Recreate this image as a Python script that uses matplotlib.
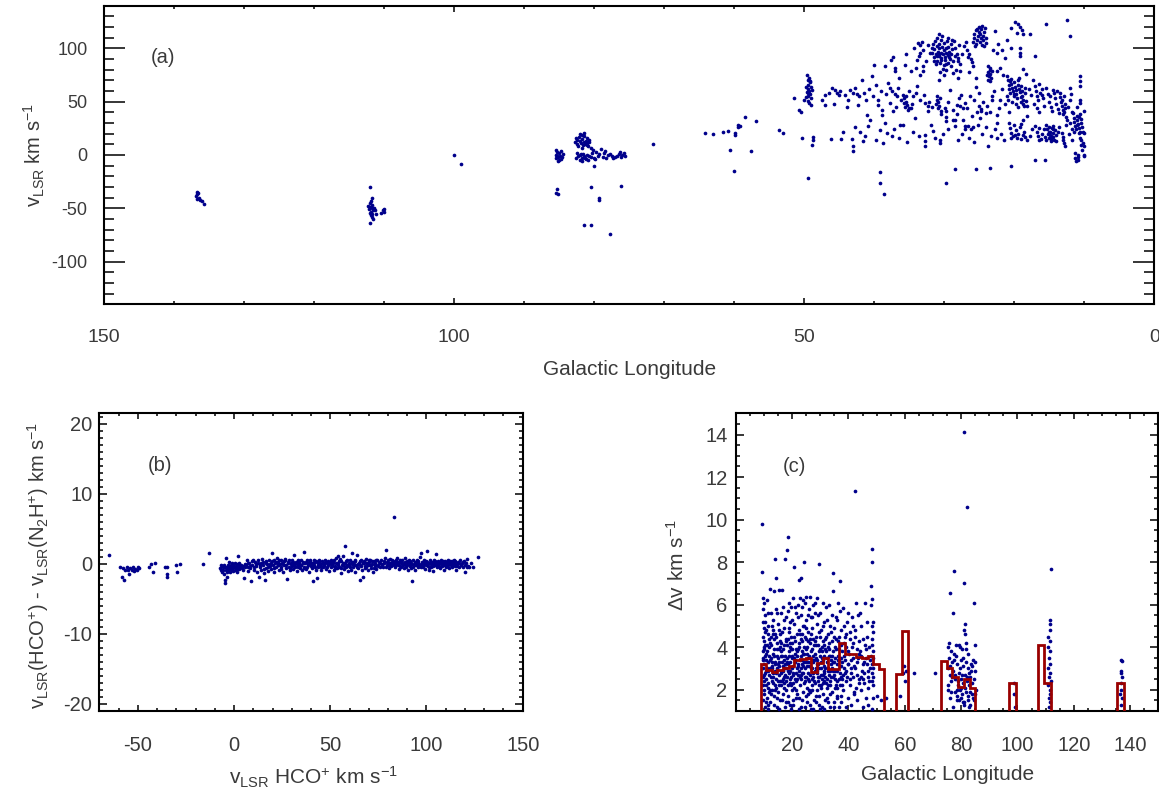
"""Galactic longitude / velocity scatter panels with a binned line-width outline."""

import matplotlib

matplotlib.use("Agg")
import matplotlib.pyplot as plt
import numpy as np
from matplotlib.ticker import MultipleLocator

plt.rcParams["font.family"] = ["Liberation Sans", "DejaVu Sans"]
plt.rcParams["mathtext.fontset"] = "custom"
plt.rcParams["mathtext.rm"] = "Liberation Sans"
plt.rcParams["mathtext.it"] = "Liberation Sans:italic"
plt.rcParams["axes.unicode_minus"] = False

DOT = "#00008b"
HIST = "#990000"
TEXT = "#3a3a3a"

# ---- panel (a): (galactic longitude, v_LSR) ----
a_outer = [
    (136.8, -35), (136.6, -36), (136.9, -38), (136.5, -40), (136.8, -41), (136.3, -42),
    (136.0, -43), (135.8, -46), (136.7, -37),
    (112.0, -30), (111.8, -40), (111.9, -43), (112.1, -45), (111.7, -47), (112.0, -49),
    (111.8, -50), (112.2, -51), (111.6, -52), (111.9, -53), (112.1, -54), (111.7, -55),
    (111.9, -56), (111.8, -58), (111.6, -60), (112.0, -64), (110.2, -52), (110.0, -53),
    (110.4, -54), (110.1, -51), (111.3, -52), (111.2, -55), (111.5, -50), (112.3, -48),
    (100.0, -0.4), (99.0, -8.2),
]
a_cygnus = [
    (85.4, 5), (85.3, 3), (85.5, 0), (85.2, -2), (85.4, -3), (85.1, -5), (84.9, -1),
    (85.0, 2), (84.6, -2), (84.5, 1), (84.7, -4), (85.2, -6), (84.8, 4), (85.3, -1),
    (85.3, -32), (85.4, -36), (85.2, -37),
    (82.5, 14), (82.2, 17), (82.0, 20), (81.8, 15), (81.5, 18), (81.2, 13), (81.0, 16),
    (80.8, 12), (82.7, 12), (82.4, 10), (81.9, 11), (81.6, 9), (81.3, 10), (80.9, 8),
    (82.1, 13), (81.7, 19), (81.4, 21), (82.6, 16), (80.7, 14), (81.1, 11), (81.8, 7),
    (82.3, 8), (81.5, 12), (81.0, 9),
    (82.5, 2), (82.3, -1), (82.0, 0), (81.8, -3), (81.6, 1), (81.4, -2), (81.2, -4),
    (81.0, 0), (80.8, -1), (80.5, -2), (82.1, -5), (81.7, -6), (81.5, -1), (81.9, 1),
    (81.3, -3), (80.9, -5), (82.6, -3), (80.1, -10), (80.3, 2), (80.0, -3),
    (80.5, 7), (80.2, 5), (79.8, 3), (79.5, -1), (79.3, 1), (79.0, 6), (78.8, -2),
    (78.6, 2), (78.3, -3), (78.0, 0), (77.8, 1), (77.5, -1), (77.3, -3), (77.0, -2),
    (79.9, -4), (78.4, 4),
    (76.8, -1), (76.5, 1), (76.2, -2), (76.0, 0), (75.8, 2), (75.6, -1), (76.3, 3),
    (80.5, -30), (79.3, -40), (79.3, -42), (81.5, -66), (80.4, -65.5), (77.7, -74),
    (76.2, -29), (71.6, 10.3),
    (64.2, 20.6), (63.1, 19.7), (61.6, 21.6), (60.9, 22.5), (59.9, 21), (59.9, 19),
    (59.5, 28), (59.5, 26), (59.2, 27), (58.5, 36), (56.9, 31.5), (60.6, 4.9),
    (57.6, 3.9), (60.0, -14.6), (53.6, 23), (53.1, 20.6),
]
a_inner = [
    (49.6, 75), (49.3, 72), (49.5, 70), (49.2, 68), (49.4, 66), (49.1, 64), (49.5, 62),
    (49.3, 60), (49.6, 59), (49.2, 57), (49.4, 55), (49.0, 53), (49.5, 51), (49.3, 49),
    (49.1, 47), (49.7, 64), (48.9, 61), (49.4, 58), (49.2, 69),
    (51.4, 53.5), (50.7, 42.5), (50.4, 40.3), (50.3, 15.9), (48.7, 17), (48.7, 14),
    (48.9, 9.7), (49.4, -21.7), (49.8, 54), (50.0, 52),
    (47.0, 56), (47.0, 47.2), (46.0, 62.9), (45.6, 61), (45.3, 58), (45.1, 56.6),
    (46.2, 15), (44.7, 15), (43.9, 45), (43.2, 15), (43.0, 3.4), (43.1, 8), (43.5, 61),
    (43.0, 58), (42.5, 57), (42.2, 55), (42.0, 21.2), (41.7, 70), (41.6, 13.4),
    (41.2, 51.9), (41.1, 37.8), (40.9, 26.9), (40.6, 33.1), (40.3, 73.8), (40.1, 84.1),
    (39.7, 66), (39.4, 52), (39.2, 23.7), (38.9, 42.5), (38.9, 37.2), (39.2, -16.3),
    (39.2, -26.3), (38.6, -36.7), (38.5, 83.2), (38.5, 30), (38.0, 67.6), (38.2, 20.6),
    (37.5, 17.5), (37.6, 89.4), (37.3, 91.7), (37.0, 81.6), (37.0, 78.5), (37.8, 63),
    (37.4, 60), (37.1, 57), (36.8, 55), (37.3, 41), (36.6, 62.9), (36.3, 28.4),
    (35.9, 28.4), (35.6, 84.8), (35.5, 94.8), (35.9, 56.6), (35.7, 53), (35.5, 50),
    (35.3, 47), (35.1, 44), (35.8, 49), (35.4, 55), (35.2, 42.5), (35.6, 45),
    (34.8, 78.5), (34.7, 44), (34.4, 55), (34.2, 34.7), (33.9, 89.4), (33.9, 64.4),
    (33.6, 92.6), (33.8, 105), (33.5, 103), (33.2, 106), (33.1, 98.8), (33.0, 83),
    (33.0, 78.5), (33.5, 75.4), (32.8, 48.8), (32.8, 19), (32.7, 13), (32.8, 8),
    (32.3, 45.6), (32.3, 41), (32.0, 95.7),
    (31.8, 100), (31.7, 96), (31.6, 104), (31.5, 92), (31.4, 99), (31.3, 107), (31.2, 95),
    (31.1, 102), (31.0, 88), (31.0, 110), (30.9, 97), (30.8, 93), (30.8, 104), (30.7, 100),
    (30.6, 86), (30.5, 96), (30.5, 108), (30.4, 91), (30.3, 101), (30.3, 112), (30.2, 95),
    (30.1, 84), (30.1, 98), (30.0, 105), (29.9, 92), (29.9, 89), (29.8, 100), (29.7, 96),
    (29.7, 80), (29.6, 107), (29.5, 94), (29.4, 86), (29.4, 101), (29.3, 97), (29.2, 90),
    (29.1, 104), (29.0, 83), (29.0, 95), (28.9, 99), (28.8, 88), (28.7, 77), (30.6, 78),
    (30.2, 81), (31.2, 85), (30.0, 75), (29.5, 110), (30.8, 113), (31.5, 88), (28.9, 108),
    (29.8, 85), (30.4, 89), (31.0, 93), (29.3, 92), (30.7, 95),
    (31.6, 22.2), (31.3, 15.9), (31.1, 55), (30.9, 50), (30.7, 46), (30.5, 41), (30.4, 38),
    (30.9, 44), (31.0, 52), (30.6, 14.3), (30.6, 11.2), (29.8, -26.3), (29.7, 41),
    (29.7, 36), (29.7, 31.5), (29.2, 61.3), (28.7, 33.1), (28.5, -12.9), (28.5, 33),
    (28.5, 27),
    (28.6, 106.7), (28.4, 100), (28.2, 95), (28.0, 91), (27.8, 85), (28.3, 80),
    (27.9, 103), (28.1, 88), (28.5, 93), (27.8, 78.5),
    (28.2, 47), (27.8, 46), (27.3, 44), (27.9, 53.5), (27.3, 33), (27.0, 27), (27.0, 24),
    (26.3, 55), (26.6, 27), (26.2, 24), (25.9, 26), (25.5, -13.2),
    (26.8, 98.8), (26.5, 95), (26.2, 90), (26.0, 87), (25.9, 83.2), (26.6, 92),
    (25.4, 72.2), (25.4, 64), (25.1, 58), (25.1, 45.6), (24.8, 43), (24.7, 41),
    (25.9, 106), (25.8, 110), (25.7, 113), (25.5, 117), (25.4, 104), (25.3, 108),
    (25.2, 112), (25.1, 120), (25.0, 115), (24.9, 106), (24.8, 110), (24.7, 118),
    (24.6, 103), (24.5, 112), (24.4, 108), (24.3, 115), (24.2, 119), (24.1, 105),
    (24.0, 110), (24.6, 121), (25.6, 102), (24.9, 113), (24.3, 102), (25.3, 118),
    (24.0, 39.4), (23.7, 8.1), (23.5, -12.3),
    (23.8, 83), (23.5, 80), (23.7, 78), (23.4, 76), (23.6, 74), (23.3, 72), (23.8, 70),
    (23.5, 69), (23.2, 79), (23.9, 75), (23.4, 82),
    (23.2, 55), (23.2, 52), (23.0, 98.8), (22.8, 116), (22.5, 95.7), (22.5, 78.5),
    (22.5, 37.8), (22.4, 30), (22.4, 15.9), (22.0, 51.9), (21.3, 91), (21.1, 55),
    (20.5, -10.7), (20.4, 119.2),
    (19.9, 125), (19.5, 123), (19.2, 120), (18.9, 117), (19.6, 114), (18.7, 113),
    (19.2, 100), (19.2, 95.7), (19.2, 92.6), (18.7, 80.7),
    (21.1, 73.8), (20.9, 70), (20.8, 66), (20.7, 62), (20.6, 58), (20.5, 71), (20.4, 67),
    (20.3, 63), (20.2, 60), (20.1, 55), (20.0, 68), (19.9, 64), (19.8, 61), (19.7, 57),
    (19.6, 53), (19.5, 70), (19.4, 66), (19.3, 62), (19.2, 59), (19.1, 50), (19.0, 65),
    (18.9, 55), (18.8, 48), (18.7, 52), (18.6, 46), (18.5, 58), (18.4, 63), (18.3, 51),
    (18.2, 45.6), (20.3, 50), (19.8, 48), (20.9, 52), (19.5, 45), (18.9, 60), (20.6, 69),
    (19.3, 72), (20.0, 57), (19.0, 54),
    (20.8, 30), (20.6, 25), (20.4, 21), (20.2, 18), (20.0, 28), (19.8, 23), (19.6, 16),
    (19.4, 20), (19.2, 26), (19.0, 15), (18.8, 19), (18.6, 22), (18.4, 17), (18.2, 14.4),
    (19.9, 19), (20.5, 16), (19.1, 29), (18.7, 33.1), (18.2, 36.3),
    (17.8, 113.6), (17.0, 92.6),
    (17.3, 70.7), (17.1, 65), (16.9, 60), (16.7, 55), (16.5, 67), (16.3, 58), (16.1, 62),
    (15.9, 53), (16.6, 51.9), (16.0, 56),
    (17.0, 27), (16.8, 22), (16.6, 18), (16.4, 25), (16.2, 15), (16.0, 20), (15.8, 24),
    (15.6, 17), (15.4, 14.4), (16.5, 14),
    (17.0, -4.4), (15.6, -4.4), (15.4, 123.3),
    (15.4, 62.9), (15.2, 57), (15.0, 50), (14.8, 45), (14.6, 41), (14.4, 61.3), (14.2, 53),
    (14.0, 48), (13.8, 43), (13.6, 39.4), (14.9, 55), (14.3, 58),
    (15.4, 28.4), (15.3, 24), (15.2, 20), (15.1, 16), (15.0, 26), (14.9, 22), (14.8, 18),
    (14.7, 13), (14.6, 25), (14.5, 21), (14.4, 17), (14.3, 14), (14.2, 23), (14.1, 19),
    (14.0, 12.8), (14.8, 15), (15.1, 22), (14.5, 27), (14.4, 24), (14.9, 19),
    (13.5, 58.2), (13.4, 54), (13.3, 50), (13.2, 46), (13.1, 42), (13.0, 38), (12.9, 55),
    (12.8, 48), (12.7, 44), (12.6, 36), (12.5, 33.1), (13.2, 52), (12.9, 40),
    (13.2, 20.6), (13.0, 14), (12.8, 8.1), (13.1, 17), (12.9, 11),
    (12.4, 127), (12.0, 111.4), (12.0, 62.9), (11.9, 57), (12.0, 52),
    (11.6, 39.4), (11.5, 35), (11.4, 31), (11.3, 27), (11.2, 24), (11.1, 37), (11.0, 33),
    (10.9, 29), (10.8, 25), (10.7, 21), (10.6, 38), (10.5, 34), (10.4, 30), (10.3, 26),
    (10.2, 22), (10.1, 20.6), (11.4, 22), (10.8, 36), (11.0, 28),
    (11.3, 1.8), (11.3, -3), (11.2, -6), (10.9, 0.3), (10.9, -2), (10.9, -4.4),
    (10.6, 73.8), (10.6, 69), (10.6, 64.4), (10.6, 52), (10.6, 48.8), (10.4, 14.3),
    (10.2, 11), (10.0, 8.1), (10.0, 41), (10.0, 0.3), (10.6, 22), (10.6, 16), (10.3, 5),
    (10.1, -1), (10.5, 9),
]
a_diffuse = [
    (47.5, 52), (46.5, 58), (45.8, 48), (44.9, 60), (44.2, 56), (43.7, 52), (42.8, 63),
    (42.3, 47), (41.5, 58), (40.8, 62), (40.2, 55), (39.5, 47), (39.0, 60), (38.3, 57),
    (37.7, 49), (36.9, 45), (36.2, 52), (35.1, 60), (34.6, 48), (34.0, 58), (33.4, 52),
    (32.9, 56), (32.2, 50), (31.8, 45), (31.2, 48), (30.6, 53), (29.9, 44), (29.4, 50),
    (28.8, 42), (28.2, 38), (27.6, 56), (27.1, 49), (26.7, 44), (26.1, 37), (25.7, 52),
    (25.3, 40), (24.9, 35), (24.4, 50), (23.9, 46), (23.4, 40), (22.9, 60), (22.2, 44),
    (21.7, 62), (21.3, 48), (20.8, 40), (17.9, 62), (17.6, 56), (17.2, 48), (16.8, 44),
    (16.4, 40), (15.8, 46), (13.9, 60), (12.3, 45), (11.8, 40), (11.1, 45),
    (44.5, 22), (42.7, 26), (41.3, 18), (39.8, 14), (38.8, 11), (37.2, 24), (36.4, 16),
    (35.3, 12), (34.5, 22), (33.6, 18), (31.9, 28), (30.2, 20), (29.5, 24), (28.0, 14),
    (27.4, 20), (26.5, 16), (25.8, 12), (25.2, 28), (24.6, 20), (24.1, 26), (23.3, 18),
    (22.7, 24), (21.9, 20), (21.4, 14), (17.7, 18), (17.5, 24), (13.8, 22), (13.6, 26),
    (12.2, 20), (11.8, 24), (12.0, 30), (11.7, 14), (12.6, 28),
    (33.4, 96), (34.3, 100), (32.6, 88), (32.3, 103), (27.4, 95), (27.2, 102),
    (26.9, 106), (22.3, 104), (21.8, 98), (21.0, 108), (20.5, 100), (36.5, 72),
    (34.1, 82), (30.7, 70), (28.1, 72), (26.4, 78), (22.0, 82), (21.6, 75), (18.3, 76),
]

# ---- panel (b): (v_LSR HCO+, v_LSR(HCO+) - v_LSR(N2H+)) ----
b_negative = [
    (-64.8, 1.3), (-59, -0.4), (-58.3, -1.8), (-57.5, -0.6), (-57, -2.3), (-56.5, -0.9),
    (-55.8, -0.5), (-55, -0.8), (-54.6, -1.4), (-54, -0.6), (-53.2, -0.9), (-52.5, -0.5),
    (-52, -1.0), (-51.3, -0.7), (-50.5, -0.8), (-50, -0.4), (-49.2, -0.6), (-44.4, -0.5),
    (-43, 0.0), (-42, -1.2), (-41.3, 0.2), (-36, -0.5), (-35, -0.4), (-34.6, -1.5),
    (-34.6, -1.9), (-30, -0.2), (-29.6, -1.1), (-28.3, 0.0), (-16.1, 0.0), (-13, 1.5),
]
b_band = [
    (-7.5, -0.6), (-7, -0.9), (-6.5, -0.3), (-6, -1.1), (-5.5, -0.5), (-5, -0.2), (-5, -1.4),
    (-4.6, -2.7), (-4.5, -2.3), (-4.2, -0.8), (-4, 0.8), (-3.8, -0.4), (-3.5, -1.8),
    (-3.3, -0.1), (-3, -0.9), (-2.8, -0.5), (-2.5, 0.3), (-2.3, -1.2), (-2, -0.6),
    (-1.8, -0.2), (-1.5, -0.9), (-1.2, -0.4), (-1, 0.1), (-0.8, -0.7), (-0.5, -0.3),
    (-0.3, -1.0), (0, -0.5), (0.3, 0.2), (0.5, -0.8), (0.8, -0.3), (1, -0.6), (1.3, 0.0),
    (1.5, -1.1), (1.8, -0.4), (2, 1.2), (2.3, -0.2), (2.5, -0.7), (3, -0.4), (3.5, -0.1),
    (4, -0.6), (4.5, -0.3), (5, -2.0), (5.5, -0.5), (6, -0.2),
    (6.5, 0.6), (7, -0.4), (7.5, -1.0), (8, 0.2), (8.5, -0.6), (9, -2.4), (9.5, -0.1),
    (10, 0.6), (10.5, -0.8), (11, 0.3), (11.5, -0.3), (12, -1.1), (12.5, 0.5), (13, -1.8),
    (13.3, -0.5), (13.8, 0.1), (14.2, -0.9), (14.6, 0.7), (15, -0.2), (15.5, -1.3),
    (16, -2.3), (16.4, 0.4), (16.8, -0.6), (17.2, 0.0), (17.6, -1.0), (18, 0.6),
    (18.5, -0.3), (19, 0.2), (19.4, -0.7), (19.8, 1.5), (20.2, -0.1), (20.6, 0.5),
    (21, -1.2), (21.4, 0.1), (21.8, -0.5), (22.2, 0.8), (22.6, -0.2), (23, 0.3),
    (23.4, -0.8), (23.8, 0.0), (24.2, 0.6), (24.6, -0.4), (25, 0.2), (25.4, -1.1),
    (25.8, 0.4), (26.2, -0.2), (26.6, 0.7), (27, -0.6), (27.5, -2.1), (27.9, 0.1),
    (28.3, -0.4), (28.7, 0.5), (29.1, -0.9), (29.5, 0.2), (29.9, -0.3), (30.3, 0.6),
    (30.7, -0.7), (31, 1.3), (31.4, 0.0), (31.8, -0.5), (32.2, 0.3), (32.6, -1.0),
    (33, 0.5), (33.4, -0.2), (33.8, 0.2), (34.2, -0.6), (34.6, 0.6), (35, -0.1),
    (35.4, -0.9), (35.8, 0.3), (36.2, 1.7), (36.6, -0.4), (37, 0.1), (37.4, -0.7),
    (37.8, 0.5), (38.2, -0.2), (38.6, 0.2), (39, -1.2), (39.4, 0.4), (39.8, -0.3),
    (40.2, 0.1), (40.6, -0.6), (41, -2.4), (41.4, 0.6), (41.8, -0.1), (42.2, 0.3),
    (42.6, -0.8), (43, -2.0), (43.4, 0.2), (43.8, -0.4), (44.2, 0.5), (44.6, -0.2),
    (45, 0.0), (45.4, -0.9), (45.8, 0.4), (46.2, -0.5), (46.6, 0.2), (47, -0.3),
    (47.4, 0.6), (47.8, -0.7), (48.2, 0.1), (48.6, -0.2), (49, 0.4), (49.4, -1.0),
    (49.8, 0.2), (50.2, -0.5), (50.6, 0.6), (51, -0.1), (51.4, 0.3), (51.8, -0.8),
    (52.2, 0.5), (52.6, -0.3), (53, 0.9), (53.4, -0.6), (53.8, 0.2), (54.2, 1.1),
    (54.6, -0.4), (55, 0.7), (55.4, -1.3), (55.8, 0.4), (56.2, -0.2), (56.6, 1.2),
    (57, -0.7), (57.5, 2.6), (57.9, 0.1), (58.3, -0.5), (58.7, 0.5), (59.1, -1.0),
    (59.5, 0.2), (59.9, -0.3), (60.3, 0.6), (60.7, -0.8), (61.1, 0.0), (61.5, 1.5),
    (61.9, -0.4), (62.3, 0.3), (62.7, -1.2), (63.1, 0.4), (63.5, -0.2), (64, 1.3),
    (64.4, -0.6), (64.8, 0.2), (65.2, -2.3), (65.6, -0.1), (66, 0.5), (66.4, -0.9),
    (66.8, 0.1), (67.2, -1.8), (67.6, 0.4), (68, -0.3), (68.4, 0.7), (68.8, -0.5),
    (69.2, 0.2), (69.6, -0.8), (70, 0.3), (70.4, -0.2), (70.8, 0.6), (71.2, -0.6),
    (71.6, 0.0), (72, -1.1), (72.5, 0.4), (73, -0.3), (73.5, 0.2), (74, -0.7), (74.5, 0.5),
    (75, -0.1), (75.5, 0.3), (76, -0.5), (76.5, 0.6), (77, 0.0), (77.5, -0.4), (78, 0.4),
    (78.5, 0.8), (79, 2.0), (79.4, -0.2), (79.8, 0.5), (80.2, 0.1), (80.6, -0.6), (81, 0.7),
    (81.4, 0.2), (81.8, -0.3), (82.2, 0.6), (82.6, 0.0), (83, 6.7), (83.4, 0.4),
    (83.8, -0.5), (84.2, 0.2), (84.6, 0.8), (85, -0.2), (85.4, 0.3), (85.8, -0.7),
    (86.2, 0.5), (86.6, 0.1), (87, -0.4), (87.4, 0.6), (87.8, 0.0), (88.2, -0.6),
    (88.6, 0.3), (89, 0.9), (89.4, -0.1), (89.8, 0.4), (90.2, -0.8), (90.6, 0.2), (91, 0.6),
    (91.4, -0.3), (91.8, 0.1), (92.2, -0.6), (92.6, -2.4), (93, 0.5), (93.4, -0.2),
    (93.8, 0.3), (94.2, -0.9), (94.6, 0.1), (95, 0.6), (95.4, -0.4), (95.8, 0.2),
    (96.2, -0.1), (96.6, 1.0), (97, 1.5), (97.4, -0.5), (97.8, 0.3), (98.2, -0.2),
    (98.6, 0.5), (99, -0.7), (99.4, 0.1), (99.8, 0.4), (100.2, 1.8), (100.6, -0.3),
    (101, 0.2), (101.4, -0.9), (101.8, 0.5), (102.2, 0.0), (102.6, -0.4), (103, 0.3),
    (103.4, -1.0), (103.8, 0.6), (104.2, -0.2), (104.6, 0.2), (105, 1.4), (105.4, -0.5),
    (105.8, 0.4), (106.2, -0.1), (106.6, 0.3), (107, -0.6), (107.4, 0.1), (107.8, 0.5),
    (108.2, -0.3), (108.6, 0.2), (109, -0.8), (109.4, 0.4), (109.8, 0.0), (110.2, -0.4),
    (110.6, 0.3), (111, -0.1), (111.4, 0.5), (111.8, -0.6), (112.2, 0.2), (112.6, -0.2),
    (113, 0.4), (113.4, -0.5), (113.8, 0.1), (114.2, 0.6), (114.6, -0.3), (115, 0.2),
    (115.5, -0.8), (116, 0.0), (116.5, 0.3), (117, -0.4), (117.5, 0.5), (118, -0.1),
    (118.5, 0.2), (119, -0.5), (119.5, 0.4), (120, -1.2), (120.5, 0.1), (121, 0.7),
    (121.5, -0.3), (122, -0.4), (123, 0.2), (124, -0.4), (127, 1.0),
]
b_band_extra = [
    (7.2, 0.1), (8.2, -0.3), (9.2, 0.4), (10.2, -0.5), (11.2, 0.0), (12.2, 0.2),
    (13.6, -0.2), (14.8, 0.3), (15.8, -0.7), (16.6, 0.1), (17.8, -0.4), (18.8, 0.0),
    (19.6, 0.4), (20.8, -0.6), (21.6, 0.3), (22.8, -0.1), (23.6, 0.5), (24.4, -0.7),
    (25.6, 0.0), (26.4, 0.5), (27.2, -0.2), (28.0, 0.3), (28.9, -0.6), (29.7, 0.0),
    (30.5, 0.3), (31.6, -0.3), (32.4, 0.1), (33.2, -0.5), (34.0, 0.4), (34.8, -0.2),
    (35.6, 0.1), (36.4, -0.6), (37.2, 0.3), (38.0, -0.4), (38.8, 0.0), (39.6, 0.6),
    (40.4, -0.3), (41.2, 0.2), (42.0, -0.5), (42.8, 0.4), (43.6, -0.1), (44.4, 0.3),
    (45.2, -0.5), (46.0, 0.1), (46.8, -0.2), (47.6, 0.3), (48.4, -0.5), (49.2, 0.0),
    (50.0, 0.3), (50.8, -0.3), (51.6, 0.1), (52.4, -0.6), (53.2, 0.2), (54.0, -0.2),
    (54.8, 0.4), (55.6, -0.6), (56.4, 0.1), (57.2, -0.3), (58.0, 0.4), (58.9, -0.2),
    (59.7, 0.0), (60.5, -0.5), (61.3, 0.3), (62.1, -0.1), (62.9, 0.5), (63.7, -0.4),
    (64.6, 0.0), (65.4, 0.4), (66.2, -0.3), (67.0, 0.2), (67.8, -0.6), (68.6, 0.1),
    (69.4, -0.2), (70.2, 0.5), (71.0, -0.1), (71.8, 0.4), (72.7, -0.6), (73.2, 0.0),
    (73.8, 0.5), (74.8, -0.3), (75.8, 0.1), (76.8, -0.2), (77.8, 0.2), (78.8, -0.4),
    (79.6, 0.3), (80.4, -0.2), (81.2, 0.1), (82.0, -0.1), (82.8, 0.3), (83.6, -0.2),
    (84.4, 0.5), (85.2, 0.0), (86.0, -0.3), (86.8, 0.3), (87.6, -0.1), (88.4, 0.1),
    (89.2, -0.4), (90.0, 0.2), (90.8, -0.2), (91.6, 0.4), (92.4, 0.0), (93.2, -0.5),
    (94.0, 0.1), (94.8, -0.2), (95.6, 0.4), (96.4, -0.3), (97.2, 0.0), (98.0, -0.4),
    (98.8, 0.2), (99.6, -0.2), (100.4, 0.3), (101.2, -0.4), (102.0, 0.2), (102.8, 0.0),
    (103.6, -0.3), (104.4, 0.4), (105.2, -0.1), (106.0, 0.2), (106.8, -0.4), (107.6, 0.0),
    (108.4, 0.4), (109.2, -0.2), (110.0, 0.2), (110.8, -0.3), (111.6, 0.1), (112.4, 0.4),
    (113.2, -0.2), (114.0, 0.0), (114.8, 0.4), (115.8, -0.3), (116.8, 0.1), (117.8, -0.2),
    (118.8, 0.3), (119.8, -0.1), (120.8, -0.4), (-6.8, -0.2), (-5.8, -0.8), (-4.8, -0.5),
    (-3.6, -1.1), (-2.6, -0.3), (-1.6, -0.6), (-0.6, -0.1), (0.6, -0.4), (1.6, -0.7),
    (2.6, 0.1), (3.6, -0.5), (4.6, -0.9), (5.6, 0.0),
]

# ---- panel (c): (galactic longitude, line width dv) ----
c_points = [
    (9.5, 9.78), (9.5, 7.54), (9.8, 6.3), (10.1, 6.1), (9.6, 5.8), (10.3, 5.5), (9.7, 5.2),
    (10.0, 4.9), (10.4, 4.7), (9.6, 4.5), (10.2, 4.3), (9.9, 4.0), (9.7, 3.8), (10.3, 3.6),
    (9.6, 3.4), (10.1, 3.2), (9.8, 3.0), (10.4, 2.8), (9.6, 2.6), (10.0, 2.4), (9.7, 2.2),
    (10.2, 2.0), (9.9, 1.8), (9.6, 1.5), (10.3, 1.2),
    (11.0, 6.2), (11.5, 5.6), (10.8, 4.8), (11.8, 4.4), (11.2, 4.1), (10.7, 3.7),
    (11.6, 3.3), (11.1, 3.0), (11.9, 2.7), (10.9, 2.5), (11.4, 2.1), (11.7, 1.9),
    (11.0, 1.6), (11.3, 1.3),
    (12.3, 6.75), (13.5, 6.65), (12.8, 5.0), (13.2, 4.6), (12.1, 4.2), (13.7, 3.9),
    (12.6, 3.5), (13.0, 3.1), (13.9, 2.9), (12.4, 2.6), (13.4, 2.3), (12.9, 2.0),
    (13.6, 1.7), (12.2, 1.4), (13.1, 4.8), (12.7, 3.3), (13.8, 2.2),
    (14.0, 8.14), (14.3, 7.25), (15.5, 6.7), (14.8, 5.6), (15.2, 4.8), (14.4, 4.5),
    (15.8, 4.0), (14.6, 3.6), (15.1, 3.2), (15.9, 2.8), (14.2, 2.5), (15.4, 2.2),
    (14.9, 1.9), (15.6, 1.5), (14.5, 1.2), (15.3, 3.9), (14.7, 3.0), (15.7, 2.4), (14.1, 2.0),
    (17.5, 8.17), (16.3, 6.7), (17.2, 5.3), (16.6, 4.7), (17.8, 4.4), (16.1, 3.8),
    (17.0, 3.4), (16.8, 3.1), (17.6, 2.7), (16.4, 2.4), (17.3, 2.1), (16.9, 1.8),
    (17.9, 1.4), (16.2, 4.2), (17.4, 3.6), (16.7, 2.9), (17.1, 2.3),
    (18.7, 9.2), (18.1, 8.58), (19.5, 5.9), (18.4, 5.7), (19.2, 5.2), (18.9, 4.9),
    (19.7, 4.5), (18.3, 4.1), (19.0, 3.8), (19.8, 3.5), (18.6, 3.2), (19.4, 2.9),
    (18.2, 2.6), (19.1, 2.3), (19.9, 2.0), (18.5, 1.7), (19.3, 1.3), (18.8, 4.7),
    (19.6, 3.9), (18.0, 3.0), (19.2, 2.5), (18.4, 2.2),
    (20.8, 7.78), (20.3, 6.3), (21.4, 5.6), (20.6, 5.1), (21.8, 4.6), (20.1, 4.2),
    (21.1, 3.7), (20.9, 3.3), (21.6, 3.0), (20.4, 2.7), (21.3, 2.4), (20.7, 2.1),
    (21.9, 1.8), (20.2, 1.5), (21.5, 3.9), (20.5, 2.8),
    (22.5, 7.15), (23.2, 7.25), (22.9, 6.3), (23.6, 5.9), (22.2, 5.4), (23.9, 5.0),
    (22.7, 4.6), (23.4, 4.3), (22.1, 3.9), (23.0, 3.6), (23.7, 3.2), (22.4, 2.9),
    (23.3, 2.5), (22.8, 2.2), (23.8, 1.9), (22.3, 1.6), (23.1, 1.2), (22.6, 4.0),
    (23.5, 3.4), (22.0, 2.7),
    (24.4, 8.0), (25.0, 6.35), (24.6, 6.1), (25.5, 5.5), (24.2, 5.0), (25.8, 4.7),
    (24.9, 4.4), (25.3, 4.0), (24.1, 3.7), (25.6, 3.3), (24.7, 3.0), (25.1, 2.6),
    (24.3, 2.3), (25.9, 2.0), (24.8, 1.7), (25.4, 1.4), (24.5, 4.5), (25.7, 3.5),
    (24.0, 2.8), (25.2, 2.1),
    (26.2, 6.35), (27.5, 6.0), (26.8, 5.4), (27.1, 4.9), (26.4, 4.4), (27.8, 4.1),
    (26.6, 3.8), (27.3, 3.4), (26.1, 3.1), (27.6, 2.8), (26.9, 2.5), (27.0, 2.2),
    (26.3, 1.9), (27.9, 1.5), (26.7, 1.1), (27.4, 3.6), (26.5, 2.7),
    (29.7, 7.9), (28.3, 6.1), (29.1, 5.5), (28.7, 5.1), (29.5, 4.7), (28.1, 4.3),
    (29.8, 3.9), (28.5, 3.5), (29.3, 3.2), (28.9, 2.9), (29.6, 2.6), (28.2, 2.3),
    (29.0, 2.0), (28.6, 1.7), (29.4, 1.3), (29.9, 1.1), (28.4, 3.0), (29.2, 2.4),
    (30.9, 6.1), (31.5, 5.2), (30.2, 4.8), (31.8, 4.4), (30.6, 4.0), (31.2, 3.6),
    (30.4, 3.3), (31.7, 3.0), (30.8, 2.7), (31.4, 2.4), (30.1, 2.1), (31.0, 1.8),
    (31.6, 1.5), (30.5, 3.8), (31.3, 2.9), (30.3, 2.2),
    (32.4, 5.3), (33.5, 5.0), (32.8, 4.6), (33.2, 4.2), (32.1, 3.8), (33.8, 3.4),
    (32.6, 3.0), (33.0, 2.7), (33.6, 2.4), (32.3, 2.1), (33.3, 1.8), (32.9, 1.4),
    (33.9, 3.2), (32.5, 2.5),
    (34.7, 7.5), (34.4, 6.65), (35.6, 5.4), (34.9, 4.5), (35.3, 4.0), (34.2, 3.6),
    (35.8, 3.2), (34.6, 2.9), (35.1, 2.5), (35.5, 2.2), (34.1, 1.9), (35.9, 1.6), (34.8, 1.2),
    (37.0, 7.1), (36.4, 6.1), (37.4, 4.8), (36.2, 4.3), (37.8, 3.8), (36.7, 3.4),
    (37.2, 3.1), (36.9, 2.8), (37.6, 2.5), (36.1, 2.1), (37.3, 1.7), (36.5, 1.2),
    (38.2, 5.85), (39.4, 5.2), (38.7, 4.5), (39.1, 4.0), (38.4, 3.6), (39.7, 3.2),
    (38.9, 2.8), (39.3, 2.4), (38.1, 2.0), (39.8, 1.6),
    (41.3, 5.4), (40.5, 4.7), (41.7, 4.2), (40.2, 3.7), (41.0, 3.4), (40.8, 3.0),
    (41.5, 2.6), (40.4, 2.2), (41.9, 1.8),
    (42.4, 11.35), (42.7, 6.1), (43.3, 5.5), (42.2, 4.8), (43.7, 4.3), (42.9, 3.9),
    (43.5, 3.5), (42.5, 3.0), (43.1, 2.7), (43.9, 2.3), (42.1, 1.9),
    (45.9, 6.1), (44.6, 5.0), (45.3, 4.4), (44.2, 3.8), (45.7, 3.3), (44.9, 2.9),
    (45.1, 2.5), (44.4, 2.0),
    (47.9, 6.9), (46.5, 4.5), (47.3, 4.0), (46.1, 3.5), (47.7, 3.0), (46.8, 2.6),
    (47.1, 2.1), (46.4, 1.6),
    (48.5, 8.6), (48.5, 8.0), (48.5, 6.25), (48.0, 6.0), (48.6, 5.2), (48.4, 5.0),
    (48.7, 4.7), (48.5, 4.4), (48.3, 4.1), (48.8, 3.8), (48.6, 3.5), (48.4, 3.2),
    (48.9, 3.0), (48.5, 2.8), (48.7, 2.6), (48.3, 2.4), (48.6, 2.2), (48.9, 1.6), (48.5, 1.1),
    (50.3, 1.7), (51.5, 1.5), (53.2, 1.6),
    (58.3, 1.7), (59.5, 2.8), (60.1, 2.4), (60.4, 2.9), (59.8, 3.1), (63.3, 2.8), (70.8, 2.8),
    (75.8, 4.2), (75.4, 4.0), (76.3, 3.8), (75.6, 3.5), (76.7, 3.3), (75.2, 3.0),
    (76.0, 2.7), (76.5, 2.4), (75.5, 2.0), (76.2, 1.6), (76.0, 6.57),
    (77.5, 7.6), (77.0, 5.6), (78.2, 4.1), (77.6, 3.7), (78.6, 3.2), (77.3, 2.9),
    (78.0, 2.5), (78.8, 2.2), (77.8, 1.9), (78.4, 1.5), (77.2, 1.2),
    (79.4, 4.1), (80.2, 3.9), (79.8, 3.4), (80.6, 3.1), (79.2, 2.8), (80.0, 2.5),
    (80.8, 2.3), (79.6, 2.0), (80.4, 1.8), (79.1, 1.5), (80.9, 1.3),
    (81.2, 14.1), (82.0, 10.6), (81.2, 7.0), (81.4, 5.1), (81.0, 4.8), (81.3, 4.6),
    (82.3, 3.7), (81.7, 3.3), (82.6, 3.0), (81.5, 2.7), (82.1, 2.4), (82.8, 2.2),
    (81.8, 1.9), (82.4, 1.7), (81.1, 1.4), (82.9, 1.2),
    (84.6, 6.1), (85.0, 4.1), (84.3, 3.4), (83.5, 3.2), (84.8, 2.9), (83.2, 2.6),
    (84.0, 2.3), (85.2, 2.0), (83.7, 1.8), (84.5, 1.5), (83.3, 1.3),
    (98.6, 1.8), (98.8, 2.3), (99.0, 1.2),
    (111.8, 7.67), (111.6, 5.3), (111.5, 5.1), (111.6, 4.8), (110.8, 4.5), (111.4, 4.3),
    (110.9, 4.0), (111.6, 3.8), (111.3, 3.5), (111.7, 3.2), (111.0, 3.0), (111.5, 2.8),
    (111.2, 2.6), (111.8, 2.4), (110.9, 2.2), (111.4, 2.0), (111.6, 1.8), (111.1, 1.6),
    (111.5, 1.4), (111.3, 1.2),
    (136.8, 3.4), (137.0, 3.35), (136.9, 2.9), (136.6, 2.8), (137.1, 2.6), (136.7, 2.3),
    (136.9, 2.0), (136.5, 1.8), (137.0, 1.6), (136.8, 1.3),
]
c_cloud = [
    (10.2, 3.9), (10.6, 2.9), (10.9, 3.4), (11.3, 4.6), (11.6, 2.3), (11.9, 3.6),
    (12.2, 3.0), (12.5, 4.1), (12.8, 2.4), (13.1, 3.7), (13.4, 2.8), (13.7, 4.4),
    (14.0, 3.3), (14.3, 2.1), (14.6, 4.2), (14.9, 3.5), (15.2, 2.7), (15.5, 3.1),
    (15.8, 4.6), (16.1, 2.2), (16.4, 3.6), (16.7, 3.9), (17.0, 2.6), (17.3, 4.9),
    (17.6, 3.2), (17.9, 2.4), (18.2, 3.5), (18.5, 4.4), (18.8, 2.8), (19.1, 3.3),
    (19.4, 4.0), (19.7, 2.2), (20.0, 3.6), (20.3, 3.1), (20.6, 4.5), (20.9, 2.5),
    (21.2, 3.4), (21.5, 2.0), (21.8, 3.8), (22.1, 3.2), (22.4, 4.8), (22.7, 2.6),
    (23.0, 3.0), (23.3, 4.4), (23.6, 2.8), (23.9, 3.7), (24.2, 3.3), (24.5, 2.4),
    (24.8, 3.9), (25.1, 4.9), (25.4, 3.1), (25.7, 2.5), (26.0, 3.6), (26.3, 4.2),
    (26.6, 3.0), (26.9, 2.0), (27.2, 3.9), (27.5, 3.3), (27.8, 2.4), (28.1, 3.7),
    (28.4, 4.5), (28.7, 2.8), (29.0, 3.4), (29.3, 4.1), (29.6, 2.2), (29.9, 3.6),
    (30.2, 3.0), (30.5, 2.5), (30.8, 4.3), (31.1, 3.4), (31.4, 2.8), (31.7, 3.9),
    (32.0, 2.3), (32.3, 3.3), (32.6, 4.0), (32.9, 2.9), (33.2, 3.6), (33.5, 2.2),
    (33.8, 4.7), (34.1, 3.0), (34.4, 2.6), (34.7, 3.8), (35.0, 3.3), (35.3, 2.1),
    (35.6, 4.4), (35.9, 2.9), (36.2, 3.6), (36.5, 2.5), (36.8, 3.9), (37.1, 2.2),
    (37.4, 4.1), (37.7, 3.3), (38.0, 2.7), (38.5, 3.0), (39.0, 4.6), (39.5, 2.6),
    (40.0, 3.2), (40.7, 2.5), (41.2, 4.0), (42.0, 3.1), (42.8, 2.1), (43.6, 3.7),
    (44.3, 2.6), (45.0, 3.2), (45.6, 2.3), (46.3, 3.9), (47.0, 2.9), (47.6, 3.4),
    (9.8, 3.5), (10.1, 2.7), (10.5, 4.1), (10.8, 2.2), (11.1, 3.8), (11.4, 2.9),
    (11.7, 4.0), (12.0, 3.4), (12.3, 2.0), (12.6, 4.5), (12.9, 3.0), (13.2, 2.6),
    (13.5, 3.6), (13.8, 3.2), (14.1, 4.6), (14.4, 2.8), (14.7, 3.9), (15.0, 2.4),
    (15.3, 3.3), (15.6, 4.3), (15.9, 3.6), (16.2, 2.9), (16.5, 3.3), (16.8, 2.5),
    (17.1, 4.1), (17.4, 3.0), (17.7, 2.0), (18.0, 4.3), (18.3, 3.3), (18.6, 2.9),
    (18.9, 3.6), (19.2, 4.2), (19.5, 2.6), (19.8, 3.0), (20.1, 3.9), (20.4, 2.3),
    (20.7, 3.5), (21.0, 4.3), (21.3, 2.8), (21.6, 3.6), (21.9, 2.5), (22.2, 3.1),
    (22.5, 4.2), (22.8, 3.4), (23.1, 2.7), (23.4, 3.8), (23.7, 4.6), (24.0, 3.1),
    (24.3, 4.0), (24.6, 2.6), (24.9, 3.3), (25.2, 3.7), (25.5, 2.8), (25.8, 4.3),
    (26.1, 2.4), (26.4, 3.3), (26.7, 4.6), (27.0, 3.0), (27.3, 2.6), (27.6, 4.4),
    (27.9, 3.4), (28.2, 2.9), (28.5, 4.1), (28.8, 3.2), (29.1, 2.6), (29.4, 3.8),
    (29.7, 3.0), (30.0, 4.5), (30.3, 2.7), (30.6, 3.5), (30.9, 2.3), (31.2, 4.1),
    (31.5, 3.1), (31.8, 2.6), (32.1, 4.5), (32.4, 3.5), (32.7, 2.2), (33.0, 3.9),
    (33.3, 2.9), (33.6, 3.6), (33.9, 2.6), (34.2, 4.3), (34.5, 3.3), (34.8, 2.7),
    (35.1, 3.5), (35.4, 2.9), (35.7, 3.9), (36.0, 2.4), (36.3, 3.4), (36.6, 4.5),
    (36.9, 3.1), (37.2, 2.6), (37.5, 3.5), (37.8, 2.2), (38.3, 4.2), (38.8, 3.4),
    (39.3, 2.9), (39.8, 3.8), (40.4, 4.4), (41.0, 2.8), (41.6, 3.5), (42.3, 4.5),
    (43.0, 3.3), (43.8, 2.5), (44.6, 3.6), (45.4, 2.8), (46.0, 4.1), (46.7, 3.2),
    (47.4, 2.4), (48.1, 3.6),
    (10.4, 5.2), (11.5, 5.0), (12.4, 5.6), (13.3, 5.3), (14.2, 5.8), (15.0, 5.1),
    (16.0, 5.6), (16.9, 5.9), (18.0, 5.4), (19.0, 6.1), (20.0, 5.3), (21.0, 5.9),
    (22.0, 6.0), (23.0, 5.5), (24.0, 6.2), (25.0, 5.3), (26.0, 5.8), (27.0, 5.4),
    (28.0, 5.6), (29.0, 6.3), (30.0, 5.6), (31.0, 5.0), (32.0, 5.9), (33.0, 6.0),
    (34.0, 5.5), (35.0, 4.9), (36.0, 5.3), (37.0, 5.7), (38.5, 5.0), (40.0, 5.6),
    (41.5, 5.0), (44.0, 5.6), (46.5, 5.2),
    (10.7, 1.4), (11.6, 1.1), (12.5, 1.8), (13.6, 1.3), (14.5, 1.6), (15.5, 1.1),
    (16.6, 1.5), (17.5, 1.2), (18.5, 1.4), (19.5, 1.1), (20.5, 1.3), (21.5, 1.6),
    (22.5, 1.1), (23.5, 1.5), (24.5, 1.2), (25.5, 1.8), (26.5, 1.3), (27.5, 1.1),
    (28.5, 1.4), (29.5, 1.7), (30.5, 1.2), (31.5, 1.1), (32.5, 1.6), (33.5, 1.2),
    (35.0, 1.4), (36.0, 1.7), (37.5, 1.4), (39.0, 1.2), (41.0, 1.3), (43.0, 1.5),
    (45.0, 1.2), (47.0, 1.3),
    (75.3, 2.2), (75.9, 3.1), (76.4, 1.9), (76.8, 2.6), (77.4, 3.4), (77.9, 2.7),
    (78.3, 3.6), (78.7, 1.7), (79.0, 2.4), (79.5, 3.0), (79.9, 1.6), (80.3, 2.7),
    (80.7, 3.5), (81.3, 2.1), (81.6, 3.9), (82.0, 2.6), (82.5, 1.5), (82.7, 2.8),
    (83.0, 1.9), (83.4, 2.9), (83.9, 3.1), (84.2, 1.6), (84.7, 2.5), (85.1, 1.8),
    (79.7, 4.0), (80.5, 1.4), (81.9, 4.2), (84.9, 3.3), (80.1, 2.1), (78.5, 2.0),
]

# binned line width (outline), grouped by contiguous longitude bins
hist_groups = [
    ([8.8, 10.8, 12.8, 14.8, 16.8, 18.8, 20.8, 22.8, 24.8, 26.8, 28.8, 30.8, 32.8,
      34.8, 36.8, 38.8, 40.8, 42.8, 44.8, 46.8, 48.8, 50.8, 52.8],
     [3.2, 2.95, 2.85, 2.95, 3.0, 3.1, 3.4, 3.45, 3.5, 2.85, 3.25, 3.5, 2.97, 2.97,
      4.2, 3.7, 3.67, 3.55, 3.5, 3.6, 3.2, 2.97]),
    ([56.9, 59.0, 61.1], [2.75, 4.75]),
    ([72.9, 74.9, 76.9, 78.9, 80.9, 83.0, 85.1], [3.35, 3.0, 2.6, 2.15, 2.52, 2.07]),
    ([97.1, 99.4], [2.33]),
    ([107.2, 109.5, 112.0], [4.1, 2.3]),
    ([135.5, 137.8], [2.33]),
]


def _style_axis(ax, tick_w, tick_h, ypad, xpad, xsize, ysize):
    ax.tick_params(which="both", direction="in", top=True, right=True,
                   colors="black", labelcolor=TEXT, width=1.1)
    ax.tick_params(axis="x", which="major", length=tick_h, pad=xpad, labelsize=xsize)
    ax.tick_params(axis="x", which="minor", length=tick_h / 2)
    ax.tick_params(axis="y", which="major", length=tick_w, pad=ypad, labelsize=ysize)
    ax.tick_params(axis="y", which="minor", length=tick_w / 2)
    for spine in ax.spines.values():
        spine.set_linewidth(1.5)


def _scatter(ax, pts):
    arr = np.array(pts, dtype=float)
    ax.scatter(arr[:, 0], arr[:, 1], s=7, color=DOT, linewidths=0, zorder=3)


fig = plt.figure(figsize=(11.59, 7.93), dpi=100)

# panel (a)
ax_a = fig.add_axes([0.0900, 0.6163, 0.9059, 0.3765])
for pts in (a_outer, a_cygnus, a_inner, a_diffuse):
    _scatter(ax_a, pts)
ax_a.set_xlim(150, 0)
ax_a.set_ylim(-140, 140)
ax_a.xaxis.set_major_locator(MultipleLocator(50))
ax_a.xaxis.set_minor_locator(MultipleLocator(10))
ax_a.set_yticks([-100, -50, 0, 50, 100])
ax_a.yaxis.set_minor_locator(MultipleLocator(10))
_style_axis(ax_a, 15, 4.3, 12, 18, 14, 13)
ax_a.set_xlabel("Galactic Longitude", fontsize=15, color=TEXT)
ax_a.xaxis.set_label_coords(0.5, -0.187)
ax_a.set_ylabel("v$_{\\rm LSR}$ km s$^{-1}$", fontsize=14.5, color=TEXT)
ax_a.yaxis.set_label_coords(-0.055, 0.5)
ax_a.text(0.056, 0.825, "(a)", transform=ax_a.transAxes, fontsize=14.5,
          color=TEXT, ha="center", va="center")

# panel (b)
ax_b = fig.add_axes([0.0857, 0.1034, 0.3653, 0.3754])
for pts in (b_negative, b_band, b_band_extra):
    _scatter(ax_b, pts)
ax_b.set_xlim(-70, 150)
ax_b.set_ylim(-21, 21.5)
ax_b.set_xticks([-50, 0, 50, 100, 150])
ax_b.xaxis.set_minor_locator(MultipleLocator(10))
ax_b.set_yticks([-20, -10, 0, 10, 20])
ax_b.yaxis.set_minor_locator(MultipleLocator(1))
_style_axis(ax_b, 6, 4.3, 5, 18, 14.5, 14.5)
ax_b.set_xlabel("v$_{\\rm LSR}$ HCO$^{+}$ km s$^{-1}$", fontsize=15, color=TEXT)
ax_b.xaxis.set_label_coords(0.507, -0.18)
ax_b.set_ylabel("v$_{\\rm LSR}$(HCO$^{+}$) - v$_{\\rm LSR}$(N$_{2}$H$^{+}$) km s$^{-1}$",
                fontsize=14.5, color=TEXT)
ax_b.yaxis.set_label_coords(-0.114, 0.49)
ax_b.text(0.143, 0.826, "(b)", transform=ax_b.transAxes, fontsize=14.5,
          color=TEXT, ha="center", va="center")

# panel (c)
ax_c = fig.add_axes([0.6348, 0.1034, 0.3646, 0.3754])
for pts in (c_points, c_cloud):
    _scatter(ax_c, pts)
for edges, heights in hist_groups:
    ax_c.stairs(heights, edges, baseline=0, color=HIST, linewidth=2.0, zorder=4)
ax_c.set_xlim(0, 150)
ax_c.set_ylim(1, 15)
ax_c.set_xticks([20, 40, 60, 80, 100, 120, 140])
ax_c.xaxis.set_minor_locator(MultipleLocator(5))
ax_c.set_yticks([2, 4, 6, 8, 10, 12, 14])
ax_c.yaxis.set_minor_locator(MultipleLocator(0.5))
_style_axis(ax_c, 6, 4.3, 6, 18, 14.5, 14.5)
ax_c.set_xlabel("Galactic Longitude", fontsize=15, color=TEXT)
ax_c.xaxis.set_label_coords(0.501, -0.18)
ax_c.set_ylabel("\u0394v km s$^{-1}$", fontsize=15, color=TEXT)
ax_c.yaxis.set_label_coords(-0.113, 0.49)
ax_c.text(0.14, 0.82, "(c)", transform=ax_c.transAxes, fontsize=14.5,
          color=TEXT, ha="center", va="center")

fig.savefig("out.png", dpi=100)
